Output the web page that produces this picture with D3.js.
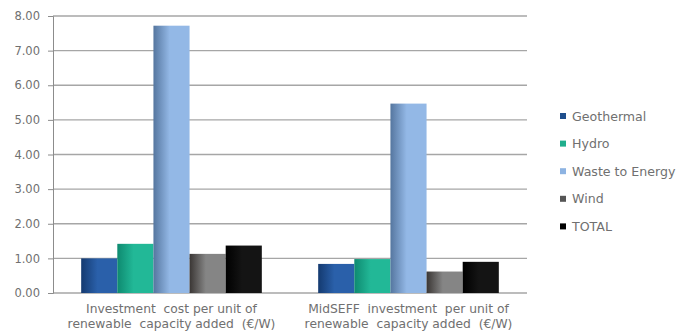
<!DOCTYPE html>
<html>
<head>
<meta charset="utf-8">
<script src="https://cdn.jsdelivr.net/npm/d3@7"></script>
<style>
  html, body { margin: 0; padding: 0; background: #fff; }
  svg { display: block; font-family: "DejaVu Sans", sans-serif; }
</style>
</head>
<body>
<svg id="chart" width="680" height="332"></svg>
<script>
// Investment per unit of renewable capacity added (€/W)
const categories = [
  ["Investment  cost per unit of", "renewable  capacity added  (€/W)"],
  ["MidSEFF  investment  per unit of", "renewable  capacity added  (€/W)"]
];
const seriesNames = ["Geothermal", "Hydro", "Waste to Energy", "Wind", "TOTAL"];
const geothermal = [1.00, 0.84];
const hydro = [1.42, 0.98];
const wasteToEnergy = [7.72, 5.47];
const wind = [1.13, 0.62];
const total = [1.37, 0.90];
const yTicks = [0, 1, 2, 3, 4, 5, 6, 7, 8];

const seriesValues = [geothermal, hydro, wasteToEnergy, wind, total];
const colors = [
  ["#143a70", "#2a60aa"],
  ["#0e8a70", "#22b897"],
  ["#55769f", "#93b8e6"],
  ["#3a3634", "#858585"],
  ["#000000", "#141414"]
];
const legendColors = ["#1f4e8c", "#1fae8c", "#8db3e2", "#555555", "#000000"];

const svg = d3.select("#chart");
const margin = { left: 53, right: 153, top: 16, bottom: 39 };
const W = 680, H = 332;

const defs = svg.append("defs");
colors.forEach((c, i) => {
  const g = defs.append("linearGradient").attr("id", "grad" + i)
    .attr("x1", "0%").attr("x2", "100%").attr("y1", "0%").attr("y2", "0%");
  g.append("stop").attr("offset", "0%").attr("stop-color", c[0]);
  g.append("stop").attr("offset", "45%").attr("stop-color", c[1]);
  g.append("stop").attr("offset", "100%").attr("stop-color", c[1]);
});

const x0 = d3.scaleBand().domain(d3.range(categories.length))
  .range([margin.left, W - margin.right]).paddingInner(0).paddingOuter(0);
const x1 = d3.scaleBand().domain(d3.range(seriesNames.length))
  .range([0, x0.bandwidth()]).paddingOuter(0.78).paddingInner(0);
const y = d3.scaleLinear().domain([0, 8]).range([H - margin.bottom, margin.top]);

// gridlines
svg.append("g").selectAll("line").data(yTicks).join("line")
  .attr("x1", margin.left).attr("x2", W - margin.right)
  .attr("y1", d => y(d)).attr("y2", d => y(d))
  .attr("stroke", "#a6a6a6").attr("stroke-width", 1.3);

// y axis
const yAxis = d3.axisLeft(y).tickValues(yTicks).tickFormat(d3.format(".2f")).tickSize(5).tickPadding(8);
const ya = svg.append("g").attr("transform", `translate(${margin.left},0)`).call(yAxis);
ya.select(".domain").attr("stroke", "#8c8c8c");
ya.selectAll(".tick line").attr("stroke", "#8c8c8c");
ya.selectAll(".tick text").attr("fill", "#707070").style("font-size", "11.5px")
  .style("font-family", "DejaVu Sans, sans-serif");

// bars
const groups = svg.append("g").selectAll("g").data(categories).join("g")
  .attr("transform", (d, i) => `translate(${x0(i)},0)`);
groups.selectAll("rect").data((d, i) => seriesValues.map((s, k) => ({ k, v: s[i] })))
  .join("rect")
  .attr("x", d => x1(d.k)).attr("width", x1.bandwidth())
  .attr("y", d => y(d.v)).attr("height", d => y(0) - y(d.v))
  .attr("fill", d => `url(#grad${d.k})`);

// category labels
const xl = svg.append("g");
categories.forEach((lines, i) => {
  const cx = x0(i) + x0.bandwidth() / 2;
  const t = xl.append("text").attr("x", cx).attr("y", H - margin.bottom + 20)
    .attr("text-anchor", "middle").attr("fill", "#707070").style("font-size", "12.3px")
    .style("white-space", "pre");
  lines.forEach((ln, j) => t.append("tspan").attr("x", cx)
    .attr("dy", j === 0 ? 0 : 15).text(ln));
});

// legend
const lg = svg.append("g").attr("transform", "translate(560,116)");
seriesNames.forEach((n, i) => {
  const row = lg.append("g").attr("transform", `translate(0,${i * 27.6})`);
  row.append("rect").attr("x", 0).attr("y", -3).attr("width", 6).attr("height", 6).attr("fill", legendColors[i]);
  row.append("text").attr("x", 12).attr("y", 4.5).attr("fill", "#707070").style("font-size", "12.6px").text(n);
});
</script>
</body>
</html>
